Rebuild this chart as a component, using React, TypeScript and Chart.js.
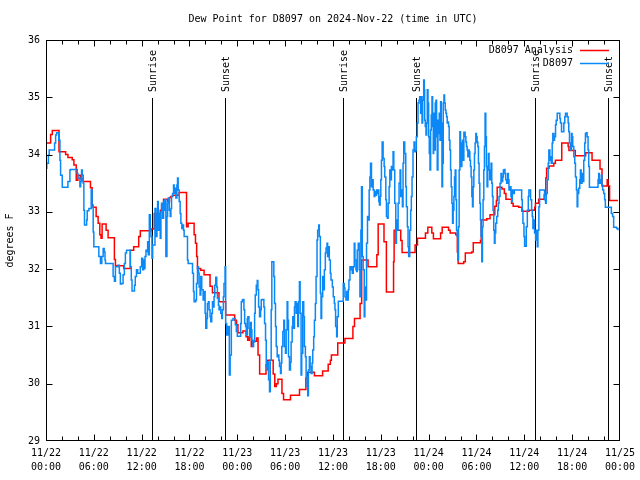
import React, { useEffect, useRef } from 'react';
import { Chart, registerables } from 'chart.js';

Chart.register(...registerables);

const TITLE = 'Dew Point for D8097 on 2024-Nov-22 (time in UTC)';
const Y_TITLE = 'degrees F';
const SERIES_NAMES = ['D8097 Analysis', 'D8097'];
const SERIES_COLORS = ['#ff0000', '#0a88f8'];

const dateLabels = ['11/22', '11/22', '11/22', '11/22', '11/23', '11/23', '11/23', '11/23', '11/24', '11/24', '11/24', '11/24', '11/25'];
const timeLabels = ['00:00', '06:00', '12:00', '18:00', '00:00', '06:00', '12:00', '18:00', '00:00', '06:00', '12:00', '18:00', '00:00'];
const yTicks = [29, 30, 31, 32, 33, 34, 35, 36];

const sunriseHours = [13.29, 37.3, 61.31];
const sunsetHours = [22.5, 46.4, 70.46];

// hours since 11/22 00:00 UTC, dew point (F)
const analysisSeries: [number, number][] = [
  [0, 34.2], [0.58, 34.35], [0.79, 34.42], [1.63, 34.05], [2.46, 34.0], [2.75, 33.95], [3.29, 33.91], [3.5, 33.82],
  [3.79, 33.55], [4.0, 33.64], [4.3, 33.58], [4.67, 33.53], [5.58, 33.42], [5.79, 33.12], [5.9, 33.08], [6.29, 32.92],
  [6.54, 32.8], [6.75, 32.6], [6.9, 32.54], [7.04, 32.79], [7.54, 32.68], [7.79, 32.55], [8.58, 32.17], [8.71, 32.06],
  [9.75, 32.01], [10.58, 32.33], [11.0, 32.39], [11.63, 32.57], [11.83, 32.67], [13.17, 32.7], [13.58, 32.97], [14.33, 33.03],
  [14.5, 33.12], [14.75, 33.22], [15.25, 33.18], [15.5, 33.25], [15.67, 33.27], [15.88, 33.29], [16.7, 33.34], [17.63, 32.74],
  [17.83, 32.8], [18.58, 32.6], [18.75, 32.45], [18.9, 32.22], [19.0, 32.01], [19.4, 31.98], [19.83, 31.9], [20.58, 31.7],
  [20.88, 31.59], [21.7, 31.43], [22.54, 31.2], [23.67, 31.11], [23.9, 31.03], [24.08, 30.89], [24.7, 30.92], [25.1, 30.82],
  [25.3, 30.76], [25.5, 30.82], [25.75, 30.65], [25.95, 30.74], [26.4, 30.8], [26.6, 30.5], [26.8, 30.17], [27.6, 30.33],
  [27.8, 30.41], [28.5, 30.17], [28.7, 29.95], [28.9, 30.0], [29.1, 30.08], [29.6, 29.83], [29.8, 29.72], [30.67, 29.8],
  [31.8, 29.9], [32.6, 30.1], [32.8, 30.2], [33.67, 30.14], [34.7, 30.22], [35.4, 30.34], [35.67, 30.41], [35.8, 30.5],
  [36.6, 30.71], [37.5, 30.79], [38.5, 31.0], [38.7, 31.14], [39.4, 31.4], [39.6, 32.16], [40.4, 32.04], [41.5, 32.25],
  [41.67, 32.79], [42.4, 32.48], [42.7, 31.6], [43.6, 32.13], [43.67, 32.68], [44.5, 32.5], [44.67, 32.29], [46.3, 32.42],
  [46.6, 32.54], [47.6, 32.63], [47.9, 32.73], [48.4, 32.63], [48.6, 32.53], [49.5, 32.63], [49.7, 32.73], [50.5, 32.68],
  [50.7, 32.63], [51.4, 32.6], [51.6, 32.3], [51.7, 32.1], [52.4, 32.13], [52.6, 32.28], [53.4, 32.3], [53.6, 32.46],
  [54.5, 32.5], [54.6, 32.86], [55.3, 32.88], [55.7, 32.95], [56.3, 33.1], [56.5, 33.2], [56.6, 33.43], [57.2, 33.4],
  [57.5, 33.32], [57.7, 33.22], [58.4, 33.15], [58.6, 33.1], [59.3, 33.08], [59.7, 33.01], [60.6, 33.03], [61.3, 33.08],
  [61.4, 33.15], [61.8, 33.22], [62.5, 33.3], [62.7, 33.59], [62.8, 33.76], [63.1, 33.8], [63.7, 33.85], [63.9, 33.9],
  [64.7, 34.2], [65.5, 34.14], [65.6, 34.07], [66.4, 33.98], [67.7, 34.03], [68.5, 33.9], [69.5, 33.75], [69.75, 33.45],
  [70.4, 33.56], [70.5, 33.45], [70.7, 33.2], [71.75, 33.2],
];

const stationSeries: [number, number][] = [
  [0, 33.76], [0.1, 33.85], [0.3, 33.99], [0.4, 34.08], [1.08, 34.2], [1.21, 34.34], [1.33, 34.38], [1.6, 34.25], [1.75, 33.9],
  [1.83, 33.64], [2.04, 33.43], [2.75, 33.53], [3.0, 33.73], [3.08, 33.74], [3.92, 33.67], [4.0, 33.59], [4.25, 33.44],
  [4.35, 33.53], [4.46, 33.73], [4.55, 33.64], [4.67, 33.5], [4.75, 33.03], [4.83, 32.77], [5.1, 32.86], [5.17, 33.02],
  [5.38, 33.06], [5.67, 33.38], [5.79, 33.09], [5.92, 32.65], [6.0, 32.39], [6.54, 32.39], [6.63, 32.22], [6.83, 32.1],
  [7.0, 32.22], [7.17, 32.36], [7.3, 32.3], [7.4, 32.16], [7.46, 32.1], [8.29, 32.1], [8.42, 31.87], [8.58, 31.79],
  [8.71, 32.04], [9.0, 32.07], [9.2, 31.93], [9.33, 31.74], [9.5, 31.75], [9.67, 31.9], [9.83, 32.1], [9.96, 32.28],
  [10.1, 32.33], [10.5, 32.33], [10.58, 32.04], [10.7, 31.81], [10.79, 31.62], [11.0, 31.62], [11.1, 31.72], [11.2, 31.87],
  [11.35, 31.99], [11.5, 31.93], [11.83, 32.04], [12.0, 32.19], [12.13, 31.99], [12.25, 32.16], [12.33, 32.01], [12.42, 32.22],
  [12.54, 32.33], [12.67, 32.31], [12.75, 32.48], [12.83, 32.25], [12.96, 32.95], [13.08, 32.68], [13.17, 32.57], [13.29, 32.19],
  [13.38, 32.42], [13.67, 33.06], [13.79, 32.57], [13.92, 32.95], [14.0, 33.18], [14.08, 32.68], [14.21, 32.97], [14.33, 32.54],
  [14.42, 33.0], [14.5, 33.15], [14.63, 32.89], [14.75, 33.18], [14.83, 33.03], [14.92, 33.21], [15.04, 32.22], [15.17, 32.92],
  [15.25, 33.15], [15.33, 33.24], [15.46, 33.03], [15.58, 32.92], [15.67, 33.06], [15.75, 33.27], [15.88, 33.32], [16.0, 33.47],
  [16.08, 33.32], [16.17, 33.41], [16.29, 33.24], [16.42, 33.47], [16.5, 33.59], [16.58, 33.38], [16.71, 33.18], [16.83, 32.97],
  [16.92, 32.8], [17.04, 32.71], [17.13, 32.77], [17.25, 32.68], [17.33, 32.57], [17.75, 32.16], [17.83, 32.1], [18.38, 31.93],
  [18.5, 31.61], [18.58, 31.43], [18.79, 31.46], [18.88, 31.75], [19.0, 32.04], [19.13, 31.93], [19.21, 31.69], [19.33, 31.55],
  [19.42, 31.87], [19.54, 31.64], [19.71, 31.46], [19.83, 31.61], [19.96, 31.23], [20.04, 30.97], [20.17, 31.14], [20.25, 31.4],
  [20.38, 31.43], [20.46, 31.29], [20.58, 31.17], [20.67, 31.08], [20.79, 31.23], [20.88, 31.43], [21.0, 31.34], [21.08, 31.52],
  [21.17, 31.72], [21.29, 31.86], [21.42, 31.69], [21.5, 31.49], [21.63, 31.37], [21.71, 31.29], [21.83, 31.34], [21.92, 31.23],
  [22.04, 31.14], [22.13, 31.29], [22.25, 31.52], [22.33, 31.75], [22.46, 32.04], [22.54, 31.05], [22.67, 30.85], [22.83, 31.0],
  [23.0, 30.15], [23.1, 30.5], [23.25, 31.11], [23.46, 31.14], [23.75, 31.03], [23.88, 30.91], [24.0, 30.83], [24.42, 31.05],
  [24.5, 31.43], [24.63, 31.46], [24.71, 31.47], [24.83, 31.29], [24.92, 31.05], [25.04, 31.0], [25.13, 30.85], [25.25, 31.14],
  [25.33, 31.17], [25.46, 30.97], [25.54, 30.82], [25.67, 31.07], [25.75, 30.94], [25.83, 30.76], [25.96, 30.65], [26.04, 30.73],
  [26.17, 31.23], [26.25, 31.55], [26.38, 31.72], [26.5, 31.8], [26.58, 31.64], [26.67, 31.34], [26.79, 31.17], [26.92, 31.29],
  [27.0, 31.46], [27.08, 31.47], [27.33, 31.34], [27.42, 31.05], [27.54, 30.76], [27.63, 30.3], [27.75, 30.24], [27.83, 30.38],
  [27.92, 30.07], [28.04, 29.86], [28.13, 30.41], [28.25, 31.29], [28.33, 32.13], [28.58, 31.87], [28.67, 31.4], [28.79, 31.0],
  [28.88, 30.65], [29.0, 30.47], [29.08, 30.5], [29.21, 30.41], [29.29, 30.3], [29.42, 30.18], [29.5, 30.36], [29.58, 30.65],
  [29.71, 30.91], [29.83, 31.11], [29.92, 30.65], [30.04, 30.53], [30.13, 30.94], [30.25, 31.43], [30.33, 31.11], [30.42, 30.47],
  [30.54, 30.24], [30.67, 30.38], [30.75, 30.73], [30.88, 31.0], [30.96, 31.17], [31.04, 30.97], [31.17, 31.34], [31.25, 31.43],
  [31.38, 31.23], [31.46, 31.4], [31.58, 31.0], [31.67, 31.43], [31.79, 31.78], [31.88, 31.23], [32.0, 30.15], [32.08, 30.53],
  [32.21, 31.43], [32.33, 31.17], [32.42, 30.65], [32.54, 30.47], [32.63, 30.12], [32.75, 29.95], [32.83, 29.79], [32.92, 30.24],
  [33.04, 30.47], [33.13, 30.3], [33.25, 30.18], [33.38, 30.36], [33.46, 30.59], [33.58, 30.82], [33.67, 31.11], [33.79, 31.4],
  [33.88, 31.87], [34.0, 32.51], [34.08, 32.68], [34.21, 32.77], [34.29, 32.57], [34.42, 31.58], [34.5, 31.14], [34.58, 31.52],
  [34.71, 31.87], [34.83, 31.64], [34.92, 31.99], [35.04, 32.28], [35.13, 32.37], [35.25, 32.45], [35.33, 32.22], [35.46, 32.39],
  [35.54, 32.16], [35.67, 31.93], [35.75, 31.81], [35.92, 31.69], [36.04, 31.52], [36.17, 31.4], [36.25, 31.29], [36.33, 31.0],
  [36.46, 30.82], [36.54, 31.17], [36.67, 31.44], [37.17, 31.44], [37.29, 31.75], [37.42, 31.67], [37.5, 31.52], [37.63, 31.46],
  [37.71, 31.61], [37.83, 31.46], [37.92, 31.64], [38.0, 31.81], [38.13, 32.04], [38.25, 31.99], [38.33, 32.04], [38.42, 31.93],
  [38.54, 32.04], [38.67, 32.45], [38.75, 32.16], [38.88, 31.99], [38.96, 31.96], [39.04, 32.33], [39.17, 32.45], [39.29, 31.99],
  [39.38, 31.52], [39.5, 32.68], [39.58, 33.44], [39.67, 32.22], [39.79, 31.99], [39.92, 31.17], [40.0, 31.69], [40.08, 31.46],
  [40.21, 32.45], [40.33, 32.92], [40.42, 32.86], [40.54, 33.38], [40.63, 33.61], [40.71, 33.85], [40.83, 33.44], [40.92, 33.56],
  [41.04, 33.38], [41.17, 33.27], [41.25, 33.35], [41.33, 33.29], [41.46, 33.38], [41.58, 33.32], [41.67, 33.38], [41.75, 33.18],
  [41.83, 33.12], [41.92, 33.27], [42.0, 33.56], [42.08, 33.9], [42.17, 34.22], [42.29, 33.93], [42.42, 33.79], [42.5, 33.61],
  [42.63, 33.21], [42.71, 32.92], [42.83, 32.89], [42.92, 33.15], [43.04, 33.44], [43.13, 33.73], [43.25, 33.56], [43.33, 33.79],
  [43.46, 33.73], [43.54, 34.05], [43.63, 33.73], [43.75, 33.15], [43.88, 32.45], [43.96, 32.86], [44.04, 32.68], [44.17, 33.15],
  [44.29, 33.5], [44.42, 33.73], [44.5, 33.27], [44.58, 33.38], [44.71, 33.09], [44.79, 33.85], [44.88, 34.22], [45.0, 34.02],
  [45.13, 33.44], [45.21, 33.09], [45.33, 32.74], [45.42, 32.39], [45.5, 32.22], [45.63, 32.68], [45.75, 33.03], [45.83, 33.27],
  [45.92, 33.61], [46.04, 34.08], [46.17, 34.22], [46.25, 34.05], [46.38, 34.08], [46.46, 34.31], [46.58, 34.55], [46.67, 34.9],
  [46.79, 34.95], [46.88, 35.01], [47.0, 34.72], [47.08, 35.01], [47.17, 34.55], [47.25, 34.95], [47.38, 35.3], [47.46, 35.13],
  [47.5, 34.6], [47.58, 34.49], [47.67, 34.34], [47.75, 34.55], [47.83, 35.13], [47.92, 34.9], [48.0, 34.31], [48.08, 34.02],
  [48.17, 33.73], [48.25, 34.43], [48.33, 34.69], [48.42, 35.01], [48.5, 34.49], [48.58, 34.02], [48.63, 34.72], [48.71, 34.08],
  [48.83, 34.9], [48.92, 34.95], [49.0, 34.31], [49.08, 33.73], [49.17, 34.6], [49.25, 34.37], [49.33, 34.72], [49.42, 34.25],
  [49.5, 34.92], [49.58, 34.55], [49.67, 33.44], [49.75, 33.85], [49.83, 34.9], [49.92, 35.04], [50.0, 34.9], [50.08, 34.78],
  [50.17, 34.72], [50.25, 34.66], [50.33, 34.55], [50.42, 34.57], [50.5, 34.49], [50.58, 34.25], [50.67, 34.08], [50.75, 33.73],
  [50.83, 33.44], [50.92, 33.15], [51.0, 32.8], [51.08, 33.03], [51.17, 33.27], [51.25, 33.61], [51.33, 33.73], [51.42, 33.21],
  [51.5, 32.68], [51.58, 32.57], [51.67, 32.16], [51.75, 32.74], [51.83, 33.73], [51.92, 34.4], [52.0, 33.96], [52.08, 33.79],
  [52.17, 34.2], [52.25, 34.25], [52.33, 33.9], [52.42, 34.39], [52.58, 34.31], [52.67, 34.22], [52.75, 34.14], [52.83, 34.08],
  [52.92, 33.96], [53.0, 34.08], [53.08, 34.05], [53.17, 33.9], [53.25, 33.79], [53.33, 33.61], [53.42, 33.27], [53.5, 33.09],
  [53.58, 33.44], [53.67, 33.73], [53.75, 34.02], [53.83, 34.2], [53.92, 34.37], [54.0, 34.31], [54.08, 34.22], [54.17, 34.14],
  [54.25, 33.85], [54.33, 33.5], [54.42, 33.15], [54.5, 32.86], [54.58, 32.57], [54.67, 32.13], [54.75, 32.74], [54.83, 33.21],
  [54.92, 33.73], [55.0, 34.14], [55.08, 34.72], [55.17, 34.31], [55.25, 33.79], [55.33, 33.44], [55.42, 33.79], [55.5, 34.02],
  [55.58, 33.73], [55.67, 33.56], [55.75, 33.73], [55.83, 33.85], [55.92, 33.5], [56.0, 33.27], [56.08, 33.03], [56.17, 32.68],
  [56.25, 32.45], [56.33, 32.63], [56.42, 32.8], [56.54, 32.92], [56.67, 33.03], [56.75, 33.15], [56.83, 33.27], [56.96, 33.5],
  [57.08, 33.67], [57.17, 33.53], [57.29, 33.61], [57.38, 33.73], [57.5, 33.74], [57.58, 33.67], [57.67, 33.56], [57.79, 33.5],
  [57.92, 33.67], [58.0, 33.56], [58.08, 33.38], [58.21, 33.44], [58.33, 33.27], [58.42, 33.18], [58.5, 33.38], [58.63, 33.32],
  [58.75, 33.38], [59.67, 33.21], [59.75, 33.03], [59.83, 32.8], [59.96, 32.57], [60.04, 32.4], [60.25, 32.74], [60.38, 33.03],
  [60.5, 33.27], [60.58, 33.38], [60.79, 33.21], [60.92, 33.03], [61.0, 32.92], [61.08, 32.71], [61.21, 32.86], [61.29, 32.63],
  [61.42, 32.51], [61.5, 32.68], [61.63, 32.39], [61.71, 32.68], [61.83, 33.09], [61.92, 33.38], [62.46, 33.38], [62.54, 33.21],
  [62.67, 33.15], [62.75, 33.32], [62.88, 33.56], [63.0, 33.85], [63.08, 34.08], [63.21, 33.9], [63.29, 33.96], [63.38, 33.85],
  [63.5, 34.2], [63.58, 34.37], [63.71, 34.25], [63.79, 34.31], [63.92, 34.52], [64.0, 34.6], [64.13, 34.72], [64.33, 34.72],
  [64.46, 34.63], [64.54, 34.55], [64.67, 34.4], [64.83, 34.4], [64.96, 34.55], [65.08, 34.66], [65.17, 34.72], [65.29, 34.72],
  [65.38, 34.66], [65.5, 34.55], [65.58, 34.4], [65.67, 34.2], [65.79, 34.08], [65.92, 34.37], [66.0, 34.31], [66.08, 34.14],
  [66.21, 33.96], [66.33, 33.85], [66.42, 33.61], [66.54, 33.38], [66.63, 33.09], [66.71, 33.32], [66.83, 33.41], [66.96, 33.56],
  [67.04, 33.73], [67.13, 33.5], [67.25, 33.67], [67.38, 33.53], [67.46, 33.9], [67.58, 34.2], [67.67, 34.37], [67.79, 34.38],
  [67.88, 34.31], [68.0, 34.08], [68.08, 33.79], [68.17, 33.43], [69.13, 33.43], [69.25, 33.56], [69.33, 33.67], [69.42, 33.5],
  [69.54, 33.56], [69.67, 33.64], [69.75, 33.47], [69.83, 33.38], [69.96, 33.32], [70.08, 33.21], [70.17, 33.08], [70.79, 33.08],
  [70.92, 32.97], [71.08, 32.92], [71.21, 32.73], [71.42, 32.73], [71.58, 32.71], [71.75, 32.68],
];

const FONT = '10px "DejaVu Sans Mono", monospace';

const decorPlugin = {
  id: 'gnuplotDecor',
  beforeDatasetsDraw(chart: any) {
    const { ctx, chartArea: a, scales } = chart;
    const x = scales.x;
    ctx.save();
    ctx.strokeStyle = '#000';
    ctx.fillStyle = '#000';
    ctx.lineWidth = 1;
    ctx.font = FONT;
    const mark = (h: number, label: string) => {
      const px = Math.round(x.getPixelForValue(h)) + 0.5;
      ctx.beginPath();
      ctx.moveTo(px, a.bottom);
      ctx.lineTo(px, a.top + 58);
      ctx.stroke();
      ctx.save();
      ctx.translate(px + 1, a.top + 52);
      ctx.rotate(-Math.PI / 2);
      ctx.textAlign = 'left';
      ctx.textBaseline = 'middle';
      ctx.fillText(label, 0, 0);
      ctx.restore();
    };
    sunriseHours.forEach((h) => mark(h, 'Sunrise'));
    sunsetHours.forEach((h) => mark(h, 'Sunset'));
    ctx.restore();
  },
  afterDatasetsDraw(chart: any) {
    const { ctx, chartArea: a, scales } = chart;
    const x = scales.x;
    const y = scales.y;
    ctx.save();
    ctx.strokeStyle = '#000';
    ctx.lineWidth = 1;
    const L = Math.round(a.left) + 0.5;
    const R = Math.round(a.right) - 0.5;
    const T = Math.round(a.top) + 0.5;
    const B = Math.round(a.bottom) - 0.5;
    ctx.beginPath();
    // x ticks every 2 hours
    for (let h = 2; h < 72; h += 2) {
      const px = Math.round(x.getPixelForValue(h)) + 0.5;
      const len = h % 6 === 0 ? 6 : 4;
      ctx.moveTo(px, B); ctx.lineTo(px, B - len);
      ctx.moveTo(px, T); ctx.lineTo(px, T + len);
    }
    yTicks.slice(1, -1).forEach((v) => {
      const py = Math.round(y.getPixelForValue(v)) + 0.5;
      ctx.moveTo(L, py); ctx.lineTo(L + 6, py);
      ctx.moveTo(R, py); ctx.lineTo(R - 6, py);
    });
    ctx.stroke();
    ctx.strokeRect(L, T, R - L, B - T);

    // legend
    ctx.font = FONT;
    ctx.fillStyle = '#000';
    ctx.textAlign = 'right';
    ctx.textBaseline = 'middle';
    const lx = a.right - 47;
    SERIES_NAMES.forEach((name, i) => {
      const ly = a.top + 10 + i * 13;
      ctx.fillText(name, lx, ly);
      ctx.strokeStyle = SERIES_COLORS[i];
      ctx.lineWidth = 1.5;
      ctx.beginPath();
      ctx.moveTo(a.right - 40, Math.round(ly) + 0.5);
      ctx.lineTo(a.right - 11, Math.round(ly) + 0.5);
      ctx.stroke();
    });

    // title
    ctx.textAlign = 'center';
    ctx.fillText(TITLE, 333, 19);
    // y axis title
    ctx.save();
    ctx.translate(10, (a.top + a.bottom) / 2);
    ctx.rotate(-Math.PI / 2);
    ctx.textAlign = 'center';
    ctx.fillText(Y_TITLE, 0, 0);
    ctx.restore();
    ctx.restore();
  },
};

export default function App() {
  const ref = useRef<HTMLCanvasElement | null>(null);
  useEffect(() => {
    if (!ref.current) return;
    const toPts = (s: [number, number][]) => s.map(([h, v]) => ({ x: h, y: v }));
    const chart = new Chart(ref.current, {
      type: 'line',
      data: {
        datasets: [
          {
            label: SERIES_NAMES[0],
            data: toPts(analysisSeries),
            borderColor: SERIES_COLORS[0],
            borderWidth: 1.5,
            pointRadius: 0,
            stepped: 'before',
            fill: false,
            order: 1,
          },
          {
            label: SERIES_NAMES[1],
            data: toPts(stationSeries),
            borderColor: SERIES_COLORS[1],
            borderWidth: 1.5,
            pointRadius: 0,
            stepped: 'before',
            fill: false,
            order: 0,
          },
        ],
      },
      options: {
        animation: false,
        responsive: false,
        devicePixelRatio: 1,
        layout: { padding: { top: 40, right: 18, left: 0, bottom: 0 } },
        plugins: {
          legend: { display: false },
          tooltip: { enabled: false },
          title: { display: false },
        },
        scales: {
          x: {
            type: 'linear',
            min: 0,
            max: 72,
            grid: { display: false, drawTicks: false },
            border: { display: false },
            ticks: {
              stepSize: 6,
              autoSkip: false,
              maxRotation: 0,
              minRotation: 0,
              padding: 5,
              color: '#000',
              font: { family: '"DejaVu Sans Mono", monospace', size: 10, lineHeight: 1.4 },
              callback: (v: any) => {
                const i = Math.round(Number(v) / 6);
                return [dateLabels[i], timeLabels[i]];
              },
            },
            afterFit: (s: any) => { s.height = 39; },
          },
          y: {
            type: 'linear',
            min: 29,
            max: 36,
            grid: { display: false, drawTicks: false },
            border: { display: false },
            ticks: {
              stepSize: 1,
              padding: 6,
              color: '#000',
              font: { family: '"DejaVu Sans Mono", monospace', size: 10 },
            },
            afterFit: (s: any) => { s.width = 46; },
          },
        },
      },
      plugins: [decorPlugin],
    });
    return () => chart.destroy();
  }, []);
  return (
    <div style={{ position: 'fixed', left: 0, top: 0, width: 640, height: 480, background: '#fff' }}>
      <canvas ref={ref} width={640} height={480} style={{ width: 640, height: 480 }} />
    </div>
  );
}
